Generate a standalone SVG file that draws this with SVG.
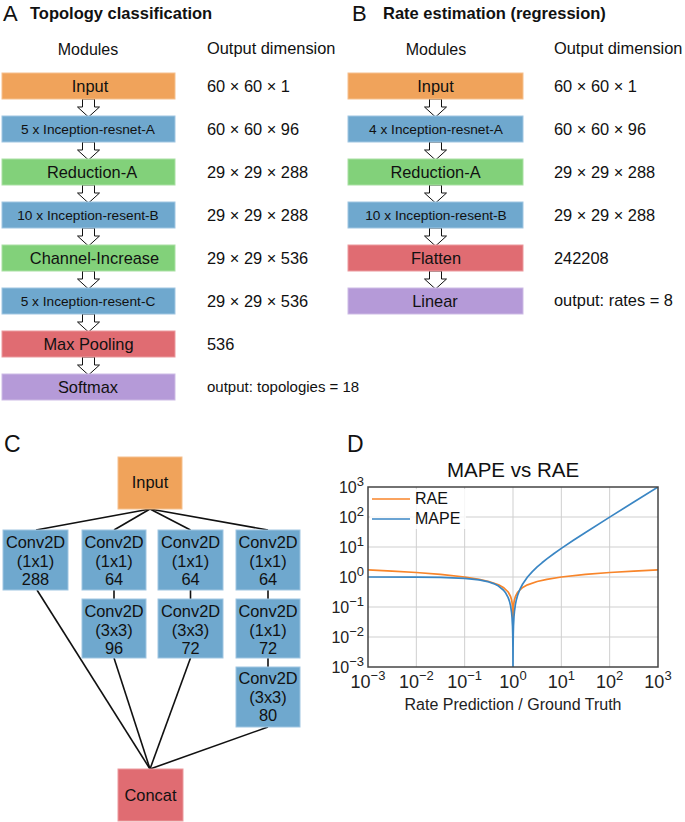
<svg xmlns="http://www.w3.org/2000/svg" width="685" height="822" viewBox="0 0 685 822">
<defs>
<style>
text{font-family:"Liberation Sans",Arial,sans-serif;fill:#111}
.t{font-size:16.4px}
.s{font-size:13.7px}
.m{text-anchor:middle}
.h{font-size:16.5px;font-weight:bold}
.L{font-size:22px}
.or{fill:#F0A35B;stroke:#F5C08E;stroke-width:1}
.bl{fill:#6FA8CE;stroke:#A0C6E2;stroke-width:1}
.gr{fill:#82D17A;stroke:#A9E0A3;stroke-width:1}
.rd{fill:#E06C72;stroke:#EB9A9E;stroke-width:1}
.pu{fill:#B59AD8;stroke:#CDBBE5;stroke-width:1}
.arr{fill:#fff;stroke:#111;stroke-width:1}
.ln{stroke:#111;stroke-width:1.6;fill:none}
.grid{stroke:#cfcfcf;stroke-width:1}
.tk{font-size:16px;fill:#222}
.tx{font-size:18px;fill:#222}
</style>
<path id="ar" class="arr" d="M-6,0 H6 V8 H11 L0,18 L-11,8 H-6 Z"/>
<clipPath id="pc"><rect x="368" y="487" width="290" height="180"/></clipPath>
</defs>

<!-- Panel A -->
<g id="panelA-labels">
<text x="3" y="21" class="L">A</text>
<text x="30" y="19" class="h">Topology classification</text>
<text x="88" y="55" class="t m" style="font-size:16px">Modules</text>
<text x="207" y="54" class="t">Output dimension</text>
</g>
<g id="A-connectors">
<use href="#ar" x="88.5" y="99"/>
<use href="#ar" x="88.5" y="142"/>
<use href="#ar" x="88.5" y="185"/>
<use href="#ar" x="88.5" y="228"/>
<use href="#ar" x="88.5" y="271"/>
<use href="#ar" x="88.5" y="314"/>
<use href="#ar" x="88.5" y="357"/>
</g>
<g id="A-input"><rect x="2" y="73" width="173" height="26" class="or"/><text x="90" y="92" class="t m">Input</text><text x="207" y="92" class="t">60 × 60 × 1</text></g>
<g id="A-incA"><rect x="2" y="116" width="173" height="26" class="bl"/><text x="88" y="134" class="s m">5 x Inception-resnet-A</text><text x="207" y="135" class="t">60 × 60 × 96</text></g>
<g id="A-redA"><rect x="2" y="159" width="173" height="26" class="gr"/><text x="92" y="178" class="t m">Reduction-A</text><text x="207" y="178" class="t">29 × 29 × 288</text></g>
<g id="A-incB"><rect x="2" y="202" width="173" height="26" class="bl"/><text x="88" y="220" class="s m">10 x Inception-resent-B</text><text x="207" y="221" class="t">29 × 29 × 288</text></g>
<g id="A-chan"><rect x="2" y="245" width="173" height="26" class="gr"/><text x="94.5" y="264" class="t m">Channel-Increase</text><text x="207" y="264" class="t">29 × 29 × 536</text></g>
<g id="A-incC"><rect x="2" y="288" width="173" height="26" class="bl"/><text x="88" y="306" class="s m">5 x Inception-resent-C</text><text x="207" y="307" class="t">29 × 29 × 536</text></g>
<g id="A-pool"><rect x="2" y="331" width="173" height="26" class="rd"/><text x="88.5" y="350" class="t m">Max Pooling</text><text x="207" y="350" class="t">536</text></g>
<g id="A-soft"><rect x="2" y="374" width="173" height="26" class="pu"/><text x="88" y="393" class="t m">Softmax</text><text x="207" y="392" style="font-size:15px">output: topologies = 18</text></g>

<!-- Panel B -->
<g id="panelB-labels">
<text x="352" y="21" class="L">B</text>
<text x="383" y="19" class="h">Rate estimation (regression)</text>
<text x="436" y="55" class="t m" style="font-size:16px">Modules</text>
<text x="554" y="54" class="t">Output dimension</text>
</g>
<g id="B-connectors">
<use href="#ar" x="435.5" y="99"/>
<use href="#ar" x="435.5" y="142"/>
<use href="#ar" x="435.5" y="185"/>
<use href="#ar" x="435.5" y="228"/>
<use href="#ar" x="435.5" y="271"/>
</g>
<g id="B-input"><rect x="348" y="73" width="175" height="26" class="or"/><text x="435.5" y="92" class="t m">Input</text><text x="554" y="92" class="t">60 × 60 × 1</text></g>
<g id="B-incA"><rect x="348" y="116" width="175" height="26" class="bl"/><text x="436" y="134" class="s m">4 x Inception-resnet-A</text><text x="554" y="135" class="t">60 × 60 × 96</text></g>
<g id="B-redA"><rect x="348" y="159" width="175" height="26" class="gr"/><text x="435.5" y="178" class="t m">Reduction-A</text><text x="554" y="178" class="t">29 × 29 × 288</text></g>
<g id="B-incB"><rect x="348" y="202" width="175" height="26" class="bl"/><text x="436" y="220" class="s m">10 x Inception-resent-B</text><text x="554" y="221" class="t">29 × 29 × 288</text></g>
<g id="B-flat"><rect x="348" y="245" width="175" height="26" class="rd"/><text x="436" y="264" class="t m">Flatten</text><text x="554" y="264" class="t">242208</text></g>
<g id="B-lin"><rect x="348" y="288" width="175" height="26" class="pu"/><text x="435" y="307" class="t m">Linear</text><text x="554" y="306" class="t">output: rates = 8</text></g>

<!-- Panel C -->
<text x="4" y="452" class="L" style="font-size:23px">C</text>
<g id="C-connectors" class="ln">
<line x1="150" y1="509" x2="36" y2="530"/>
<line x1="150" y1="509" x2="114" y2="530"/>
<line x1="150" y1="509" x2="190.5" y2="530"/>
<line x1="150" y1="509" x2="268" y2="530"/>
<line x1="114" y1="590" x2="114" y2="599"/>
<line x1="190.5" y1="590" x2="190.5" y2="599"/>
<line x1="268" y1="590" x2="268" y2="599"/>
<line x1="268" y1="658" x2="268" y2="667"/>
<line x1="37" y1="590" x2="150" y2="769"/>
<line x1="114" y1="658" x2="150" y2="769"/>
<line x1="190.5" y1="658" x2="150" y2="769"/>
<line x1="268" y1="727" x2="150" y2="769"/>
</g>
<g id="C-input"><rect x="118" y="457" width="64" height="52" class="or"/><text x="150" y="488" class="t m">Input</text></g>
<g id="C-b1"><rect x="3" y="530" width="65" height="60" class="bl"/><text x="35.5" y="548" class="t m">Conv2D</text><text x="35.5" y="566.5" class="t m">(1x1)</text><text x="35.5" y="585" class="t m">288</text></g>
<g id="C-b2a"><rect x="82" y="530" width="64" height="60" class="bl"/><text x="114" y="548" class="t m">Conv2D</text><text x="114" y="566.5" class="t m">(1x1)</text><text x="114" y="585" class="t m">64</text></g>
<g id="C-b3a"><rect x="158" y="530" width="65" height="60" class="bl"/><text x="190.5" y="548" class="t m">Conv2D</text><text x="190.5" y="566.5" class="t m">(1x1)</text><text x="190.5" y="585" class="t m">64</text></g>
<g id="C-b4a"><rect x="236" y="530" width="64" height="60" class="bl"/><text x="268" y="548" class="t m">Conv2D</text><text x="268" y="566.5" class="t m">(1x1)</text><text x="268" y="585" class="t m">64</text></g>
<g id="C-b2b"><rect x="82" y="599" width="64" height="59" class="bl"/><text x="114" y="617" class="t m">Conv2D</text><text x="114" y="635.5" class="t m">(3x3)</text><text x="114" y="653.5" class="t m">96</text></g>
<g id="C-b3b"><rect x="158" y="599" width="65" height="59" class="bl"/><text x="190.5" y="617" class="t m">Conv2D</text><text x="190.5" y="635.5" class="t m">(3x3)</text><text x="190.5" y="653.5" class="t m">72</text></g>
<g id="C-b4b"><rect x="236" y="599" width="64" height="59" class="bl"/><text x="268" y="617" class="t m">Conv2D</text><text x="268" y="635.5" class="t m">(1x1)</text><text x="268" y="653.5" class="t m">72</text></g>
<g id="C-b4c"><rect x="236" y="667" width="64" height="60" class="bl"/><text x="268" y="684" class="t m">Conv2D</text><text x="268" y="702.5" class="t m">(3x3)</text><text x="268" y="721" class="t m">80</text></g>
<g id="C-concat"><rect x="118" y="769" width="65" height="52" class="rd"/><text x="150.5" y="801" class="t m">Concat</text></g>

<!-- Panel D -->
<text x="347" y="452" class="L" style="font-size:23px">D</text>
<text x="513" y="477" class="m" style="font-size:20.5px">MAPE vs RAE</text>
<g id="D-grid" class="grid">
<line x1="416.33" y1="487" x2="416.33" y2="667"/>
<line x1="464.67" y1="487" x2="464.67" y2="667"/>
<line x1="513" y1="487" x2="513" y2="667"/>
<line x1="561.33" y1="487" x2="561.33" y2="667"/>
<line x1="609.67" y1="487" x2="609.67" y2="667"/>
<line x1="368" y1="517" x2="658" y2="517"/>
<line x1="368" y1="547" x2="658" y2="547"/>
<line x1="368" y1="577" x2="658" y2="577"/>
<line x1="368" y1="607" x2="658" y2="607"/>
<line x1="368" y1="637" x2="658" y2="637"/>
</g>
<g id="D-curves" clip-path="url(#pc)" fill="none" stroke-width="1.7" stroke-linejoin="round">
<polyline stroke="#F8852A" points="368,569.84 392.17,571.03 416.33,572.48 440.5,574.36 464.67,577 479.17,579.32 488.83,581.52 498.5,584.84 503.33,587.48 508.17,592 510.58,596.52 511.55,599.84 512.03,602.48 512.52,607 512.76,611.52 512.855,614.84 512.9,617.48 513,620 513.1,617.48 513.145,614.84 513.24,611.52 513.48,607 513.97,602.48 514.45,599.84 515.42,596.52 517.83,592 522.67,587.48 527.5,584.84 537.17,581.52 546.83,579.32 561.33,577 585.5,574.36 609.67,572.48 633.83,571.03 658,569.84"/>
<polyline stroke="#3A86C4" points="368,577.01 416.33,577.13 440.5,577.42 464.67,578.37 479.17,579.9 488.83,581.95 493.67,583.61 498.5,586.06 503.33,589.99 505.75,593.04 508.17,597.6 509.62,601.82 510.58,605.91 511.55,612.27 512.03,617.4 512.52,626.29 512.76,635.24 512.9,647.15 512.98,665.2 513,672 513.02,665.2 513.1,647.07 513.24,635.11 513.48,626 513.97,616.8 514.45,611.37 515.42,604.4 516.38,599.7 517.83,594.6 520.25,588.53 522.67,583.99 527.5,577.06 532.33,571.62 537.17,566.95 542,562.77 546.83,558.91 554.08,553.48 561.33,548.37 573.42,540.25 585.5,532.42 609.67,517.13 633.83,502.04 658,487.01"/>
</g>
<rect x="368" y="487" width="290" height="180" fill="none" stroke="#444" stroke-width="1.5"/>
<g id="D-legend">
<rect x="370" y="489" width="96" height="40" fill="#fff" opacity="0.8"/>
<line x1="372" y1="499" x2="410" y2="499" stroke="#F8852A" stroke-width="1.7"/>
<line x1="372" y1="519" x2="410" y2="519" stroke="#3A86C4" stroke-width="1.7"/>
<text x="415" y="504" style="font-size:16px">RAE</text>
<text x="415" y="524" style="font-size:16px">MAPE</text>
</g>
<g id="D-yticks" text-anchor="end">
<text x="364" y="493" class="tk">10<tspan dy="-7" font-size="13">3</tspan></text>
<text x="364" y="523" class="tk">10<tspan dy="-7" font-size="13">2</tspan></text>
<text x="364" y="553" class="tk">10<tspan dy="-7" font-size="13">1</tspan></text>
<text x="364" y="583" class="tk">10<tspan dy="-7" font-size="13">0</tspan></text>
<text x="364" y="613" class="tk">10<tspan dy="-7" font-size="13">−1</tspan></text>
<text x="364" y="643" class="tk">10<tspan dy="-7" font-size="13">−2</tspan></text>
<text x="364" y="673" class="tk">10<tspan dy="-7" font-size="13">−3</tspan></text>
</g>
<g id="D-xticks" text-anchor="middle">
<text x="368" y="688" class="tx">10<tspan dy="-8" font-size="13">−3</tspan></text>
<text x="416.33" y="688" class="tx">10<tspan dy="-8" font-size="13">−2</tspan></text>
<text x="464.67" y="688" class="tx">10<tspan dy="-8" font-size="13">−1</tspan></text>
<text x="513" y="688" class="tx">10<tspan dy="-8" font-size="13">0</tspan></text>
<text x="561.33" y="688" class="tx">10<tspan dy="-8" font-size="13">1</tspan></text>
<text x="609.67" y="688" class="tx">10<tspan dy="-8" font-size="13">2</tspan></text>
<text x="658" y="688" class="tx">10<tspan dy="-8" font-size="13">3</tspan></text>
</g>
<text x="513" y="710" class="m" style="font-size:16px;fill:#222">Rate Prediction / Ground Truth</text>
</svg>
